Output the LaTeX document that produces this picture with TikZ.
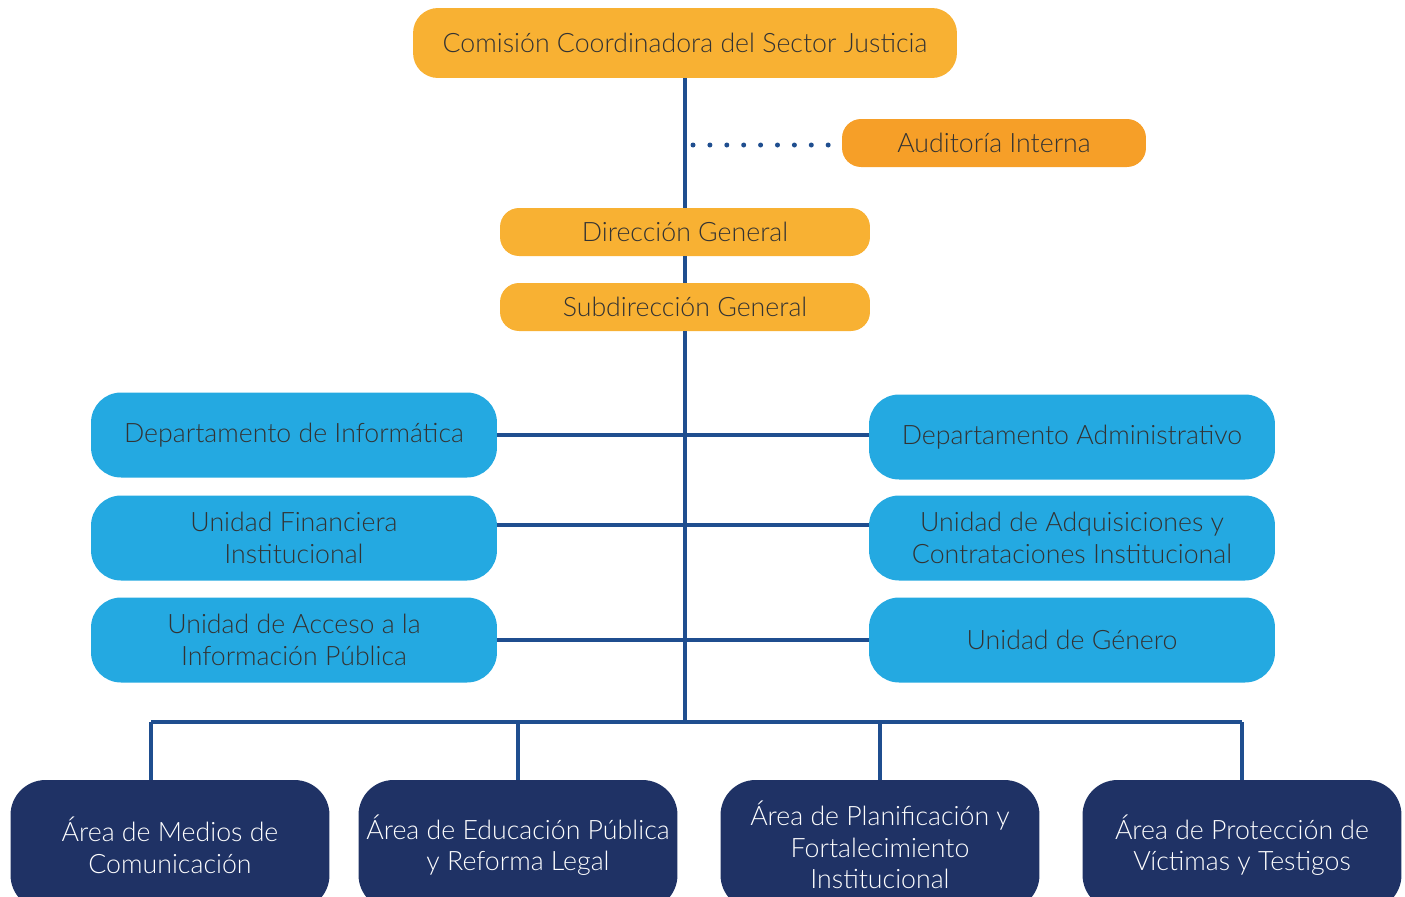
\documentclass[tikz,border=0pt]{standalone}
\usepackage{fontspec}
\IfFontExistsTF{Lato Light}{\setmainfont{Lato Light}}{\setmainfont{Lato}}
\usetikzlibrary{positioning}
\definecolor{cgold}{HTML}{F8B133}
\definecolor{corange}{HTML}{F69F28}
\definecolor{cblue}{HTML}{24A9E1}
\definecolor{cnavy}{HTML}{1F3265}
\definecolor{cline}{HTML}{1F4E8F}
\definecolor{ctext}{HTML}{333333}
\begin{document}
\begin{tikzpicture}[x=0.02cm,y=-0.02cm,
		boxtext/.style={align=center, inner sep=0pt, font=\fontsize{15.2}{18}\selectfont},
		headbox/.style={boxtext, fill=cgold, text=ctext, rounded corners=0.5cm, minimum width=10.88cm, minimum height=1.4cm},
		midbox/.style={boxtext, fill=cgold, text=ctext, rounded corners=0.38cm, minimum width=7.4cm, minimum height=0.96cm},
		audbox/.style={boxtext, fill=corange, text=ctext, rounded corners=0.38cm, minimum width=6.08cm, minimum height=0.96cm},
		unitbox/.style={boxtext, fill=cblue, text=ctext, rounded corners=0.6cm, minimum width=8.12cm, minimum height=1.7cm},
		areabox/.style={boxtext, fill=cnavy, text=white, rounded corners=0.7cm, minimum width=6.38cm, minimum height=2.6cm},
		link/.style={draw=cline, line width=1.8pt},
		dotlink/.style={draw=cline, line width=0.1cm, line cap=round, dash pattern=on 0pt off 0.338cm}]
	\useasboundingbox (0,0) rectangle (1405,896);
	%Top of the chart
	\node [headbox] (comision) at (685,43) {Comisión Coordinadora del Sector Justicia};
	\node [audbox] (auditoria) at (994,143) {Auditoría Interna};
	\node [midbox] (direccion) at (685,232) {Dirección General};
	\node [midbox] (subdireccion) at (685,307) {Subdirección General};
	%Units on the left
	\node [unitbox] (informatica) at (294,435) {Departamento de Informática};
	\node [unitbox] (financiera) at (294,538) {Unidad Financiera\\Institucional};
	\node [unitbox] (acceso) at (294,640) {Unidad de Acceso a la\\Información Pública};
	%Units on the right
	\node [unitbox] (administrativo) at (1072,437) {Departamento Administrativo};
	\node [unitbox] (adquisiciones) at (1072,538) {Unidad de Adquisiciones y\\Contrataciones Institucional};
	\node [unitbox] (genero) at (1072,640) {Unidad de Género};
	%Areas at the bottom
	\node [areabox] (medios) at (170,845) {Área de Medios de\\Comunicación};
	\node [areabox] (educacion) at (518,845) {Área de Educación Pública\\y Reforma Legal};
	\node [areabox] (planificacion) at (880,845) {Área de Planificación y\\Fortalecimiento\\Institucional};
	\node [areabox] (proteccion) at (1242,845) {Área de Protección de\\Víctimas y Testigos};
	%Main line
	\coordinate (bus) at (685,722);
	\draw [link] (comision.south) -- (direccion.north);
	\draw [link] (direccion.south) -- (subdireccion.north);
	\draw [link] (subdireccion.south) -- (bus);
	%Dotted line to the audit
	\coordinate (audsrc) at (693,145);
	\draw [dotlink, shorten >=0.22cm] (audsrc) -- (audsrc -| auditoria.west);
	%Lines between the units
	\draw [link] (informatica.east) -- (informatica.east -| administrativo.west);
	\draw [link] ([yshift=0.26cm]financiera.east) -- ([yshift=0.26cm]financiera.east -| adquisiciones.west);
	\draw [link] (acceso.east) -- (acceso.east -| genero.west);
	%Bus to the areas
	\coordinate (medtop) at ([xshift=-0.38cm]medios.north);
	\draw [link] (medtop |- bus) -- (proteccion.north |- bus);
	\draw [link] (medtop |- bus) -- (medtop);
	\draw [link] (educacion.north |- bus) -- (educacion.north);
	\draw [link] (planificacion.north |- bus) -- (planificacion.north);
	\draw [link] (proteccion.north |- bus) -- (proteccion.north);
\end{tikzpicture}
\end{document}
